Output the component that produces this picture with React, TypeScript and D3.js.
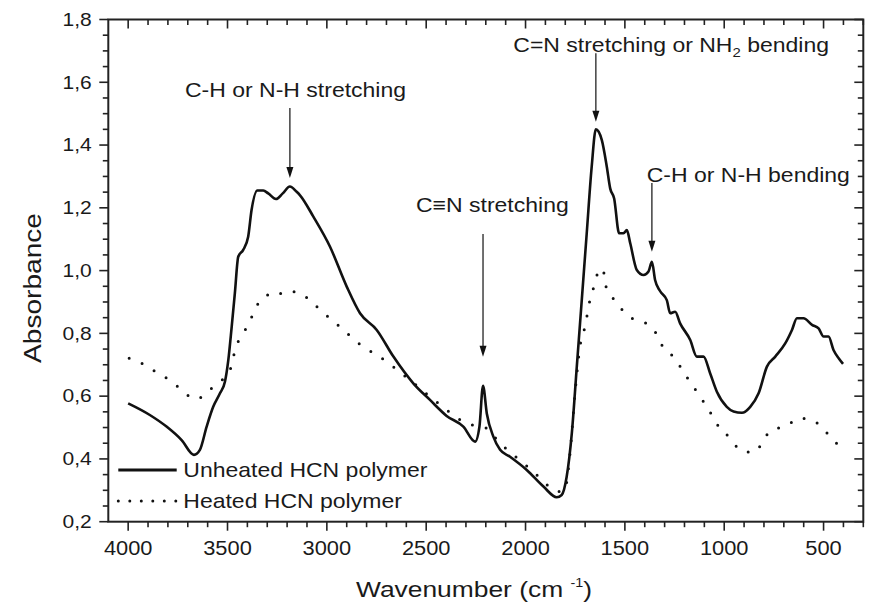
import React from "react";
import * as d3 from "d3";

const unheatedWn = [4000,3891,3807,3731,3669,3639,3605,3572,3538,3513,3496,3479,3463,3446,3421,3396,3379,3350,3320,3295,3256,3222,3186,3152,3135,3068,2984,2900,2833,2749,2665,2565,2481,2397,2313,2254,2232,2214,2195,2162,2128,2078,1994,1910,1843,1818,1793,1767,1742,1717,1692,1667,1646,1616,1591,1574,1554,1529,1507,1490,1473,1440,1406,1381,1364,1348,1323,1289,1272,1247,1222,1171,1138,1104,1071,1037,987,953,911,869,827,785,743,693,659,634,601,558,525,500,475,450,424,402];
const unheatedAbs = [0.577,0.540,0.503,0.460,0.413,0.429,0.503,0.566,0.609,0.646,0.715,0.821,0.928,1.044,1.066,1.108,1.193,1.255,1.255,1.246,1.228,1.246,1.268,1.251,1.240,1.172,1.076,0.949,0.864,0.811,0.726,0.641,0.588,0.537,0.503,0.455,0.503,0.633,0.545,0.471,0.429,0.407,0.365,0.312,0.278,0.285,0.343,0.482,0.694,0.906,1.119,1.331,1.450,1.416,1.331,1.262,1.230,1.119,1.119,1.129,1.087,1.002,0.986,0.997,1.028,0.970,0.935,0.906,0.864,0.869,0.832,0.779,0.726,0.726,0.673,0.614,0.566,0.551,0.547,0.566,0.609,0.694,0.726,0.768,0.811,0.848,0.848,0.827,0.816,0.790,0.790,0.747,0.721,0.703];

const heatedWn = [3995,3938,3891,3849,3799,3740,3689,3653,3614,3572,3484,3468,3446,3409,3376,3345,3295,3270,3202,3135,3073,3014,2954,2892,2833,2767,2699,2635,2565,2481,2414,2355,2296,2237,2195,2136,2081,2019,1952,1897,1840,1801,1790,1776,1751,1726,1701,1676,1650,1628,1608,1591,1566,1532,1490,1448,1398,1348,1309,1252,1208,1168,1126,1096,1057,1020,973,933,894,849,810,772,715,668,626,584,550,505,466,432,402];
const heatedAbs = [0.721,0.707,0.689,0.673,0.654,0.625,0.598,0.591,0.607,0.630,0.689,0.731,0.774,0.813,0.855,0.896,0.922,0.917,0.935,0.928,0.898,0.864,0.832,0.797,0.765,0.738,0.710,0.678,0.643,0.598,0.565,0.535,0.514,0.503,0.498,0.455,0.423,0.391,0.354,0.320,0.296,0.301,0.340,0.418,0.609,0.758,0.821,0.906,0.960,1.007,0.997,0.938,0.917,0.890,0.859,0.843,0.834,0.805,0.758,0.723,0.681,0.641,0.604,0.574,0.535,0.495,0.469,0.436,0.423,0.421,0.450,0.487,0.501,0.514,0.530,0.527,0.522,0.498,0.471,0.448,0.429];

const xMajorTicks = [4000, 3500, 3000, 2500, 2000, 1500, 1000, 500];
const yMajorTicks = [0.2, 0.4, 0.6, 0.8, 1.0, 1.2, 1.4, 1.6, 1.8];

const L = 108.3, R = 863.3, TOP = 19.5, B = 521.7;
const FONT = "'Liberation Sans', Arial, Helvetica, sans-serif";

const x = d3.scaleLinear().domain([4100, 300]).range([L, R]);
const y = d3.scaleLinear().domain([0.2, 1.8]).range([B, TOP]);

const xMinor = d3.range(4000, 299, -100);
const yMinor = d3.range(0.2, 1.8001, 0.05);

function Txt({ tx, ty, size, sx = 1.15, anchor = "start", rotate = 0, children }: any) {
  return (
    <text
      transform={`translate(${tx},${ty})${rotate ? ` rotate(${rotate})` : ""} scale(${sx},1)`}
      fontSize={size}
      textAnchor={anchor}
      fontFamily={FONT}
      fill="#1a1a1a"
    >
      {children}
    </text>
  );
}

function Arrow({ ax, y1, y2 }: { ax: number; y1: number; y2: number }) {
  return (
    <g>
      <line x1={ax} x2={ax} y1={y1} y2={y2 - 10} stroke="#111" strokeWidth={1.2} />
      <path d={`M${ax - 3.5},${y2 - 11} L${ax + 3.5},${y2 - 11} L${ax},${y2} Z`} fill="#111" />
    </g>
  );
}

export default function App() {
  const line = d3
    .line<[number, number]>()
    .x((d) => x(d[0]))
    .y((d) => y(d[1]))
    .curve(d3.curveMonotoneX);
  const unheated = unheatedWn.map((w, i) => [w, unheatedAbs[i]] as [number, number]);
  const heated = heatedWn.map((w, i) => [w, heatedAbs[i]] as [number, number]);

  const MAJ = 9, MIN = 5.5;

  return (
    <svg width={869} height={603} style={{ position: "absolute", left: 0, top: 0, background: "#fff" }}>
      <rect x={0} y={0} width={869} height={603} fill="#fff" />
      {/* ticks */}
      {xMinor.map((v) => {
        const major = xMajorTicks.includes(v);
        const len = major ? MAJ : MIN;
        return (
          <g key={"xt" + v}>
            <line x1={x(v)} x2={x(v)} y1={B} y2={B + len} stroke="#222" strokeWidth={1.6} />
            <line x1={x(v)} x2={x(v)} y1={TOP} y2={TOP + len} stroke="#222" strokeWidth={1.6} />
          </g>
        );
      })}
      {yMinor.map((v, i) => {
        const major = i % 4 === 0;
        const len = major ? MAJ : MIN;
        return (
          <g key={"yt" + i}>
            <line x1={L - len} x2={L} y1={y(v)} y2={y(v)} stroke="#222" strokeWidth={1.6} />
            <line x1={R - len} x2={R} y1={y(v)} y2={y(v)} stroke="#222" strokeWidth={1.6} />
          </g>
        );
      })}
      <rect x={L} y={TOP} width={R - L} height={B - TOP} fill="none" stroke="#222" strokeWidth={2} />

      {/* tick labels */}
      {xMajorTicks.map((v) => (
        <Txt key={"xl" + v} tx={x(v)} ty={555} size={19.5} sx={1.12} anchor="middle">
          {String(v)}
        </Txt>
      ))}
      {yMajorTicks.map((v) => (
        <Txt key={"yl" + v} tx={91.7} ty={y(v) + 6.3} size={17.5} sx={1.2} anchor="end">
          {v.toFixed(1).replace(".", ",")}
        </Txt>
      ))}

      {/* axis titles */}
      <Txt tx={41} ty={288} size={24} sx={1.17} anchor="middle" rotate={-90}>
        Absorbance
      </Txt>
      <Txt tx={356} ty={597} size={22} sx={1.2}>
        Wavenumber (cm <tspan fontSize={12} dy={-10}>-1</tspan>
        <tspan dy={10} fontSize={22}>)</tspan>
      </Txt>

      {/* curves */}
      <path d={line(heated) || ""} fill="none" stroke="#111" strokeWidth={3} strokeLinecap="round" strokeDasharray="0 14" />
      <path d={line(unheated) || ""} fill="none" stroke="#111" strokeWidth={2.6} strokeLinejoin="round" />

      {/* annotations */}
      <Txt tx={185} ty={96.7} size={20} sx={1.15}>C-H or N-H stretching</Txt>
      <Arrow ax={x(3186)} y1={108} y2={178} />
      <Txt tx={416} ty={211.7} size={20} sx={1.15}>C≡N stretching</Txt>
      <Arrow ax={x(2214)} y1={234} y2={356.7} />
      <Txt tx={513.3} ty={51.7} size={20} sx={1.15}>
        C=N stretching or NH<tspan fontSize={13} dy={5}>2</tspan>
        <tspan dy={-5} fontSize={20}> bending</tspan>
      </Txt>
      <Arrow ax={x(1646)} y1={53.3} y2={121.7} />
      <Txt tx={646.7} ty={181.7} size={20} sx={1.15}>C-H or N-H bending</Txt>
      <Arrow ax={x(1364)} y1={183} y2={251.7} />

      {/* legend */}
      <line x1={118.3} x2={176.7} y1={470} y2={470} stroke="#111" strokeWidth={3} />
      <Txt tx={183.3} ty={476.7} size={20} sx={1.15}>Unheated HCN polymer</Txt>
      <line x1={118.3} x2={176.7} y1={501} y2={501} stroke="#111" strokeWidth={3} strokeLinecap="round" strokeDasharray="0 11.5" />
      <Txt tx={183.3} ty={508} size={20} sx={1.15}>Heated HCN polymer</Txt>
    </svg>
  );
}
